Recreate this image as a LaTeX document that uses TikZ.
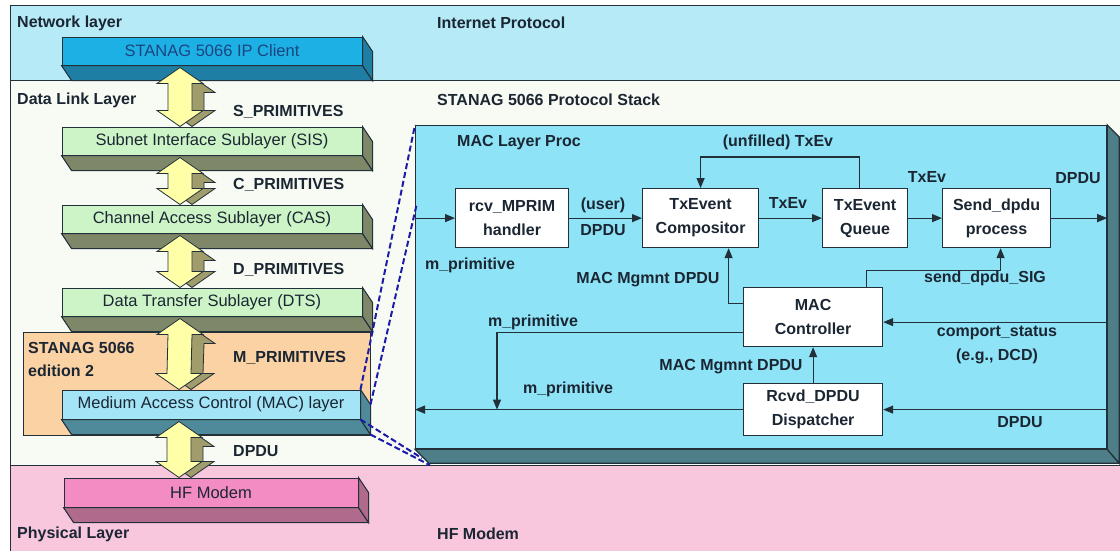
\documentclass[tikz,border=0pt]{standalone}
\usepackage{fontspec}
\setmainfont{Liberation Sans}
\usetikzlibrary{arrows.meta,calc}
\definecolor{txt}{HTML}{1B2633}
\definecolor{edge}{HTML}{22303A}
\definecolor{netbg}{HTML}{B6EAF6}
\definecolor{dlbg}{HTML}{F8FBF3}
\definecolor{phybg}{HTML}{F8C6DD}
\definecolor{ipfront}{HTML}{1DB0E4}
\definecolor{ipdark}{HTML}{1F7EA3}
\definecolor{grfront}{HTML}{CDF4C6}
\definecolor{grdark}{HTML}{7E8868}
\definecolor{macfront}{HTML}{A3E4F6}
\definecolor{macdark}{HTML}{4F8A9A}
\definecolor{hffront}{HTML}{F28CC2}
\definecolor{hfdark}{HTML}{B06B8C}
\definecolor{orng}{HTML}{FBD2A4}
\definecolor{arry}{HTML}{FFFFA8}
\definecolor{arrsh}{HTML}{A09C6C}
\definecolor{panelc}{HTML}{8EE3F6}
\definecolor{paneldark}{HTML}{4E7E88}
\definecolor{dashc}{HTML}{1C1CA8}
\definecolor{iptxt}{HTML}{1B4580}

\tikzset{
  slab/.style={draw=edge, line width=1pt, inner sep=0pt, text=txt, font=\fontsize{16.5}{20}\selectfont},
  procbox/.style={draw=edge, fill=white, line width=1.2pt, inner sep=0pt, anchor=north west, align=center, text=txt, font=\fontsize{16}{24}\selectfont\bfseries},
  lbl/.style={inner sep=0pt, text=txt, font=\fontsize{16}{20}\selectfont\bfseries},
  arr/.style={draw=edge, line width=1.2pt, -{Triangle[length=10pt,width=8pt]}},
  link/.style={dash pattern=on 6pt off 3pt, draw=dashc, line width=2pt},
}

\newcommand\slabdepth[2]{%
  \filldraw[fill=#2, draw=edge, line width=1pt] (#1.south west) -- (#1.south east) -- ($(#1.south east)+(10,15)$) -- ($(#1.south west)+(10,15)$) -- cycle;
  \filldraw[fill=#2, draw=edge, line width=1pt] (#1.north east) -- ($(#1.north east)+(10,15)$) -- ($(#1.south east)+(10,15)$) -- (#1.south east) -- cycle;}

\newcommand\dblarrow[2]{%
  \path ($(#1.south)+(-32,2)$) coordinate (tt) ($(#2.north)+(-32,0)$) coordinate (bb);
  \filldraw[fill=arrsh, draw=edge, line width=0.8pt] ($(tt)+(12,9)$) -- ++(23,16) -- ++(-11,0) -- ($(bb)+(24,-16)$) -- ++(11,0) -- ($(bb)+(12,0)$) -- ++(-23,-16) -- ++(11,0) -- ($(tt)+(0,25)$) -- ++(-11,0) -- cycle;
  \filldraw[fill=arry, draw=edge, line width=0.8pt] (tt) -- ++(23,16) -- ++(-11,0) -- ($(bb)+(12,-16)$) -- ++(11,0) -- (bb) -- ++(-23,-16) -- ++(11,0) -- ($(tt)+(-12,16)$) -- ++(-11,0) -- cycle;}

\begin{document}
\begin{tikzpicture}[x=1pt,y=-1pt]
\useasboundingbox (0,0) rectangle (1120,550);
\fill[white] (0,0) rectangle (1120,550);

% layer bands
\filldraw[fill=netbg, draw=edge, line width=1pt] (10,5) rectangle (1125,80);
\filldraw[fill=dlbg, draw=edge, line width=1pt] (10,80) rectangle (1125,465);
\filldraw[fill=phybg, draw=edge, line width=1pt] (10,465) rectangle (1125,555);

% STANAG 5066 edition 2 region
\filldraw[fill=orng, draw=edge, line width=1pt] (23,332) rectangle (370,435);

% slabs
\node[slab, fill=ipfront, text=iptxt, minimum width=300pt, minimum height=28pt] (ip) at (212,51) {STANAG 5066 IP Client};
\slabdepth{ip}{ipdark}
\node[slab, fill=grfront, minimum width=300pt, minimum height=28pt] (sis) at (212,141) {Subnet Interface Sublayer (SIS)};
\slabdepth{sis}{grdark}
\node[slab, fill=grfront, minimum width=300pt, minimum height=28pt] (cas) at (212,219) {Channel Access Sublayer (CAS)};
\slabdepth{cas}{grdark}
\node[slab, fill=grfront, minimum width=300pt, minimum height=28pt] (dts) at (212,302) {Data Transfer Sublayer (DTS)};
\slabdepth{dts}{grdark}
\node[slab, fill=macfront, minimum width=298pt, minimum height=29pt] (mac) at (211,404.5) {Medium Access Control (MAC) layer};
\slabdepth{mac}{macdark}
\node[slab, fill=hffront, minimum width=294pt, minimum height=29pt] (hf) at (211,492.5) {HF Modem};
\slabdepth{hf}{hfdark}

% double arrows between slabs
\dblarrow{ip}{sis}
\dblarrow{sis}{cas}
\dblarrow{cas}{dts}
\dblarrow{dts}{mac}
\dblarrow{mac}{hf}

% left labels
\node[lbl, anchor=west] (netl) at (17,23) {Network layer};
\node[lbl, anchor=west] (ipl) at (437,23) {Internet Protocol};
\node[lbl, anchor=west] (dll) at (17,100) {Data Link Layer};
\node[lbl, anchor=west] (psl) at (437,100) {STANAG 5066 Protocol Stack};
\node[lbl, anchor=west] (phl) at (17,534) {Physical Layer};
\node[lbl, anchor=west] (hfl) at (437,534) {HF Modem};
\node[lbl, anchor=west] (sp) at (233,112) {S\_PRIMITIVES};
\node[lbl, anchor=west] (cp) at (233,185) {C\_PRIMITIVES};
\node[lbl, anchor=west] (dp) at (233,270) {D\_PRIMITIVES};
\node[lbl, anchor=west] (mp) at (233,358) {M\_PRIMITIVES};
\node[lbl, anchor=west] (dpl) at (233,451) {DPDU};
\node[lbl, anchor=north west, align=left, font=\fontsize{16}{23}\selectfont\bfseries] (ed2) at (28,342) {STANAG 5066\\edition 2};

% MAC layer process panel
\node[draw=edge, fill=panelc, line width=1.2pt, minimum width=691pt, minimum height=323pt, anchor=north west, inner sep=0pt] (panel) at (415,125) {};
\filldraw[fill=paneldark, draw=edge, line width=1.2pt] (panel.south west) -- (panel.south east) -- ($(panel.south east)+(12,14)$) -- ($(panel.south west)+(14,14)$) -- cycle;
\filldraw[fill=paneldark, draw=edge, line width=1.2pt] (panel.north east) -- ($(panel.north east)+(12,12)$) -- ($(panel.south east)+(12,14)$) -- (panel.south east) -- cycle;

% zoom (dashed) lines
\draw[link] (mac.north east) -- (panel.north west);
\draw[link] ($(mac.north east)+(10,15)$) -- ($(panel.north west)+(2,78)$);
\draw[link] (mac.south east) -- ($(panel.south west)+(7,9)$);
\draw[link] ($(mac.south east)+(10,15)$) -- ($(panel.south west)+(15,16)$);

\node[lbl, anchor=west] (mlp) at (457,143) {MAC Layer Proc};

% process boxes
\node[procbox, minimum width=113pt, minimum height=59pt] (rcv) at (455,188) {rcv\_MPRIM\\handler};
\node[procbox, minimum width=116pt, minimum height=59pt] (comp) at (642,188) {TxEvent\\Compositor};
\node[procbox, minimum width=85pt, minimum height=59pt] (queue) at (822,188) {TxEvent\\Queue};
\node[procbox, minimum width=108pt, minimum height=59pt] (send) at (942,188) {Send\_dpdu\\process};
\node[procbox, minimum width=139pt, minimum height=59pt] (ctrl) at (743,287) {MAC\\Controller};
\node[procbox, minimum width=139pt, minimum height=52pt] (disp) at (743,383) {Rcvd\_DPDU\\Dispatcher};

% connectors
\draw[arr] (rcv.west -| panel.west) -- (rcv.west);
\draw[arr] (rcv) -- (comp);
\draw[arr] (comp) -- (queue);
\draw[arr] (queue) -- (send);
\draw[arr] (send.east) -- (send.east -| panel.east);
\draw[arr] ($(queue.north)+(-6,0)$) |- ($(comp.north)+(0,-31)$) -- (comp.north);
\draw[arr] ($(ctrl.north east)+(-17,0)$) |- ($(send.south)+(4,22)$) -- ($(send.south)+(4,0)$);
\draw[arr] ($(ctrl.west)+(0,-14)$) -| ($(comp.south)+(28,0)$);
\coordinate (mj) at ($(disp.west)!0.75!(disp.west -| panel.west)$);
\draw[arr] ($(ctrl.west)+(0,15)$) -| (mj);
\draw[arr] (disp.west) -- (disp.west -| panel.west);
\draw[arr] (disp) -- (ctrl);
\draw[arr] ($(ctrl.east -| panel.east)+(0,5)$) -- ($(ctrl.east)+(0,5)$);
\draw[arr] (disp.east -| panel.east) -- (disp.east);

% connector labels
\node[lbl] (l1) at (470,265) {m\_primitive};
\node[lbl] (l2) at (603,205) {(user)};
\node[lbl] (l3) at (603,230) {DPDU};
\node[lbl] (l4) at (778,142) {(unfilled) TxEv};
\node[lbl] (l5) at (788,203) {TxEv};
\node[lbl] (l6) at (927,177) {TxEv};
\node[lbl] (l7) at (1078,178) {DPDU};
\node[lbl] (l8) at (985,278) {send\_dpdu\_SIG};
\node[lbl] (l9) at (997,333) {comport\_status};
\node[lbl] (l10) at (997,356) {(e.g., DCD)};
\node[lbl] (l11) at (1020,422) {DPDU};
\node[lbl] (l12) at (648,280) {MAC Mgmnt DPDU};
\node[lbl] (l13) at (533,322) {m\_primitive};
\node[lbl] (l14) at (731,367) {MAC Mgmnt DPDU};
\node[lbl] (l15) at (568,389) {m\_primitive};
\end{tikzpicture}
\end{document}
